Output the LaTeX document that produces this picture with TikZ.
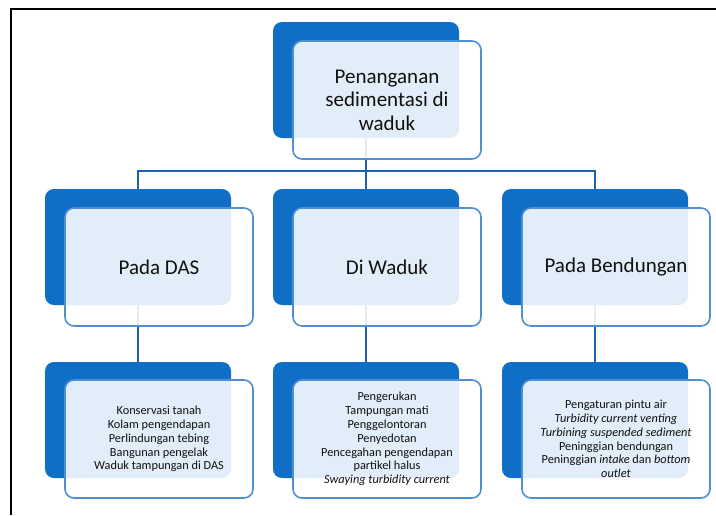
\documentclass[tikz,border=0pt]{standalone}
\usepackage{fontspec}
\setmainfont{Carlito}
\definecolor{darkblue}{HTML}{0F6FC6}
\definecolor{edgeblue}{HTML}{4F8FD6}
\definecolor{connblue}{HTML}{1F5FAF}
\definecolor{txt}{HTML}{111111}
\tikzset{
  backbox/.style={fill=darkblue, draw=none, rounded corners=9pt, minimum width=186pt, minimum height=116pt, inner sep=0pt},
  frontbox/.style={fill=white, fill opacity=0.88, text opacity=1, draw=edgeblue, line width=1.6pt, rounded corners=9pt, minimum width=188pt, minimum height=118pt, inner sep=0pt, align=center, text=txt},
  bigtxt/.style={font=\fontsize{21}{23.5}\selectfont},
  smalltxt/.style={font=\fontsize{12.3}{13.8}\selectfont},
  conn/.style={draw=connblue, line width=1.6pt},
  frame/.style={draw=black, line width=2pt}
}
\begin{document}
\begin{tikzpicture}[x=1pt,y=-1pt]
\useasboundingbox (0,0) rectangle (716,515);
\draw[frame] (716,9) -- (11,9) -- (11,515);
% back boxes
\node[backbox] (d0) at (366,80) {};
\node[backbox] (d1) at (138,247) {};
\node[backbox] (d2) at (366,247) {};
\node[backbox] (d3) at (595,247) {};
\node[backbox] (e1) at (138,420) {};
\node[backbox] (e2) at (366,420) {};
\node[backbox] (e3) at (595,420) {};
% connectors
\draw[conn] (d0.south) -- ++(0,33) -| (d1.north);
\draw[conn] (d0.south) -- (d2.north);
\draw[conn] (d0.south) -- ++(0,33) -| (d3.north);
\draw[conn] (d1.south) -- (e1.north);
\draw[conn] (d2.south) -- (e2.north);
\draw[conn] (d3.south) -- (e3.north);
% front boxes
\node[frontbox, bigtxt] (f0) at (387,100) {Penanganan\\sedimentasi di\\waduk};
\node[frontbox, bigtxt] (f1) at (159,267) {Pada DAS};
\node[frontbox, bigtxt] (f2) at (387,267) {Di Waduk};
\node[frontbox, bigtxt] (f3) at (616,267) {Pada Bendungan};
\node[frontbox, smalltxt] (g1) at (159,439) {Konservasi tanah\\Kolam pengendapan\\Perlindungan tebing\\Bangunan pengelak\\Waduk tampungan di DAS};
\node[frontbox, smalltxt] (g2) at (387,439) {Pengerukan\\Tampungan mati\\Penggelontoran\\Penyedotan\\Pencegahan pengendapan\\partikel halus\\\textit{Swaying turbidity current}};
\node[frontbox, smalltxt] (g3) at (616,439) {Pengaturan pintu air\\\textit{Turbidity current venting}\\\textit{Turbining suspended sediment}\\Peninggian bendungan\\Peninggian \textit{intake} dan \textit{bottom}\\\textit{outlet}};
\end{tikzpicture}
\end{document}
